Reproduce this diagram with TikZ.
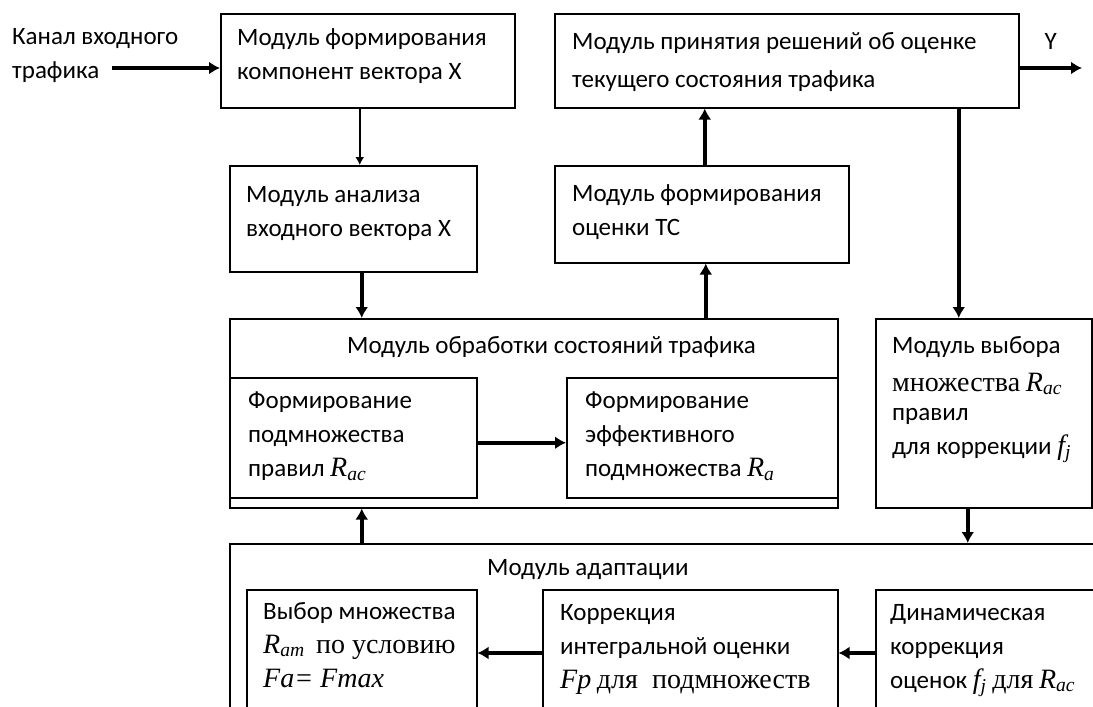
\documentclass[tikz,border=0pt]{standalone}
\usepackage{fontspec}
\setmainfont{Carlito}
\newfontfamily\tms[Scale=1.12]{Liberation Serif}
\usetikzlibrary{arrows.meta}
\newcommand{\vr}[2]{{\tms\itshape #1\textsubscript{#2}}}

\begin{document}
\begin{tikzpicture}[x=1pt,y=-1pt,
  blok/.style={draw,line width=1.5pt,inner sep=0pt,anchor=north west},
  txt/.style={anchor=north west,inner sep=0pt,align=left,font=\fontsize{25}{34}\selectfont},
  tonk/.style={-{Latex[length=8pt,width=9pt]},line width=1.5pt},
  zhir/.style={-{Latex[length=11pt,width=13pt]},line width=3.5pt}]
\useasboundingbox (0,0) rectangle (1093,707);
% Upper row
\node [blok,minimum width=294pt,minimum height=94pt] (b1) at (220,13) {};
\node [blok,minimum width=247pt,minimum height=106pt] (b2) at (229,165) {};
\node [blok,minimum width=464pt,minimum height=94pt] (b3) at (554,13) {};
\node [blok,minimum width=294pt,minimum height=97pt] (b4) at (554,165) {};
% Processing module
\node [blok,minimum width=608pt,minimum height=189pt] (obr) at (229,318) {};
\node [blok,minimum width=247pt,minimum height=120pt] (fL) at (229,377) {};
\node [blok,minimum width=271pt,minimum height=120pt] (fR) at (566,377) {};
\node [blok,minimum width=216pt,minimum height=189pt] (b5) at (875,318) {};
% Adaptation module
\node [blok,minimum width=900pt,minimum height=200pt] (adapt) at (229,543) {};
\node [blok,minimum width=230pt,minimum height=150pt] (bA) at (246,589) {};
\node [blok,minimum width=295pt,minimum height=150pt] (bB) at (542,589) {};
\node [blok,minimum width=250pt,minimum height=150pt] (bC) at (875,589) {};
% Texts
\node [txt] (vhod) at (12,28) {Канал входного\\трафика};
\node [txt] (t1) at (237,28) {Модуль формирования\\компонент вектора X};
\node [txt] (t2) at (246,186) {Модуль анализа\\входного вектора X};
\node [txt] (t3) at (572,32) {Модуль принятия решений об оценке\\[4pt]текущего состояния трафика};
\node [txt] (t4) at (572,184) {Модуль формирования\\оценки ТС};
\node [txt] (tobr) at (347,336) {Модуль обработки состояний трафика};
\node [txt] (tL) at (248,392) {Формирование\\подмножества\\правил \vr{R}{ac}};
\node [txt] (tR) at (585,392) {Формирование\\эффективного\\подмножества \vr{R}{a}};
\node [txt] (t5) at (892,336) {Модуль выбора\\[4pt]{\tms множества} \vr{R}{ac}\\[-5pt]правил\\для коррекции \vr{f}{j}};
\node [txt] (tad) at (487,559) {Модуль адаптации};
\node [txt] (tA) at (263,602) {Выбор множества\\\vr{R}{am}\ \ {\tms по условию}\\{\tms\itshape Fa= Fmax}};
\node [txt] (tB) at (560,604) {Коррекция\\интегральной оценки\\{\tms\itshape Fp} {\tms для\ \ подмножеств}};
\node [txt] (tC) at (890,604) {Динамическая\\коррекция\\оценок \vr{f}{j} {\tms для} \vr{R}{ac}};
% Connectors
\coordinate (vx) at (112,68);
\coordinate (yout) at (1082,68);
\draw [zhir] (vx) -- (vx -| b1.west);
\draw [tonk] ([xshift=-8pt]b1.south) -- ([xshift=-8pt]b1.south |- b2.north);
\draw [zhir] ([xshift=8.5pt]b2.south) -- ([xshift=8.5pt]b2.south |- obr.north);
\draw [zhir] ([xshift=4pt]b4.south |- obr.north) -- ([xshift=4pt]b4.south);
\draw [zhir] ([xshift=3pt]b4.north) -- ([xshift=3pt]b4.north |- b3.south);
\draw [zhir] ([xshift=172pt]b3.south) -- ([xshift=172pt]b3.south |- b5.north);
\draw [zhir] (b3.east |- yout) -- (yout) node [midway,above=17pt,inner sep=0pt,font=\fontsize{25}{34}\selectfont] (ylab) {Y};
\draw [zhir] ([yshift=-5pt]fL.east) -- ([yshift=-5pt]fL.east -| fR.west);
\draw [zhir] ([xshift=-16pt]b5.south) -- ([xshift=-16pt]b5.south |- adapt.north);
\draw [zhir] ([xshift=8.5pt]b2.south |- adapt.north) -- ([xshift=8.5pt]b2.south |- obr.south);
\draw [zhir] ([yshift=-64pt]bC.north west) -- ([yshift=-64pt]bC.north west -| bB.east);
\draw [zhir] ([yshift=-64pt]bB.north west) -- ([yshift=-64pt]bB.north west -| bA.east);
\end{tikzpicture}
\end{document}
